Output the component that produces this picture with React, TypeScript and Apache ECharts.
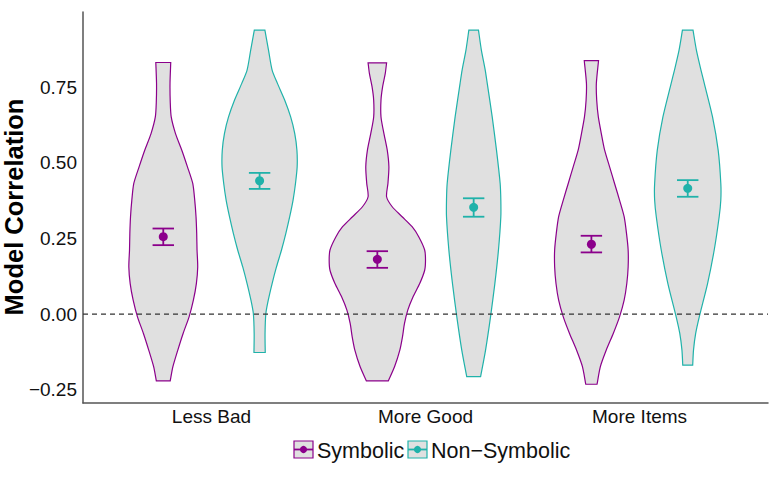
import React, { useEffect, useRef } from 'react';
import * as echarts from 'echarts';

const categories = ['Less Bad', 'More Good', 'More Items'];
const groupNames = ['Symbolic', 'Non−Symbolic'];
const yTicks = [-0.25, 0, 0.25, 0.5, 0.75];

// violin profiles: [value, relative half-width (1 = full dodge half-width)]
const symLessBad = [
  [0.832, 0.155], [0.763, 0.14], [0.7, 0.145], [0.652, 0.165], [0.597, 0.254],
  [0.542, 0.385], [0.487, 0.502], [0.432, 0.612], [0.377, 0.653], [0.322, 0.68],
  [0.267, 0.694], [0.212, 0.701], [0.156, 0.715], [0.101, 0.687], [0.046, 0.625],
  [-0.009, 0.536], [-0.064, 0.412], [-0.119, 0.302], [-0.174, 0.2], [-0.221, 0.144],
];
const nonSymLessBad = [
  [0.939, 0.11], [0.873, 0.185], [0.807, 0.26], [0.763, 0.37], [0.708, 0.52],
  [0.652, 0.645], [0.597, 0.73], [0.542, 0.775], [0.487, 0.78], [0.432, 0.745],
  [0.377, 0.695], [0.322, 0.625], [0.267, 0.545], [0.212, 0.455], [0.156, 0.35],
  [0.101, 0.26], [0.046, 0.18], [0.002, 0.13], [-0.064, 0.113], [-0.127, 0.117],
];
const symMoreGood = [
  [0.831, 0.192], [0.796, 0.165], [0.752, 0.11], [0.708, 0.076], [0.652, 0.076],
  [0.597, 0.137], [0.542, 0.206], [0.487, 0.24], [0.432, 0.22], [0.388, 0.192],
  [0.355, 0.309], [0.322, 0.515], [0.289, 0.722], [0.256, 0.859], [0.212, 0.983],
  [0.178, 1.0], [0.145, 0.983], [0.101, 0.88], [0.057, 0.742], [0.013, 0.632],
  [-0.031, 0.564], [-0.075, 0.522], [-0.119, 0.467], [-0.174, 0.357], [-0.221, 0.227],
];
const nonSymMoreGood = [
  [0.939, 0.1], [0.873, 0.16], [0.807, 0.24], [0.763, 0.282], [0.652, 0.385],
  [0.542, 0.474], [0.432, 0.55], [0.377, 0.564], [0.322, 0.564], [0.212, 0.515],
  [0.101, 0.44], [-0.009, 0.35], [-0.119, 0.247], [-0.207, 0.144],
];
const symMoreItems = [
  [0.838, 0.148], [0.763, 0.103], [0.708, 0.11], [0.652, 0.144], [0.597, 0.206],
  [0.542, 0.275], [0.487, 0.378], [0.432, 0.481], [0.377, 0.584], [0.322, 0.68],
  [0.267, 0.729], [0.212, 0.763], [0.156, 0.763], [0.101, 0.735], [0.046, 0.68],
  [-0.009, 0.584], [-0.064, 0.454], [-0.119, 0.309], [-0.174, 0.186], [-0.232, 0.117],
];
const nonSymMoreItems = [
  [0.939, 0.11], [0.873, 0.18], [0.807, 0.275], [0.763, 0.344], [0.652, 0.515],
  [0.542, 0.632], [0.432, 0.687], [0.377, 0.687], [0.322, 0.653], [0.212, 0.55],
  [0.101, 0.412], [-0.009, 0.24], [-0.064, 0.165], [-0.119, 0.12], [-0.169, 0.103],
];

const symbolicMeans = [0.256, 0.181, 0.231];
const symbolicLow = [0.228, 0.153, 0.204];
const symbolicHigh = [0.283, 0.208, 0.259];
const nonSymbolicMeans = [0.441, 0.353, 0.416];
const nonSymbolicLow = [0.414, 0.322, 0.388];
const nonSymbolicHigh = [0.467, 0.383, 0.443];

const SYM = '#8B008B';
const NS = '#20B2AA';
const FILL = '#e0e0e0';
const FONT = "'Liberation Sans', Arial, Helvetica, sans-serif";
const DODGE = 0.225;
const CAP = 0.05;

function fmt(v: number) {
  const s = Math.abs(v).toFixed(2);
  return v < 0 ? '−' + s : s;
}

function violinSeries(name: string, profiles: number[][][], offset: number, color: string) {
  return {
    type: 'custom',
    name,
    z: 2,
    silent: true,
    data: categories.map((_, i) => [i + 1 + offset, 0]),
    encode: { x: 0, y: 1 },
    renderItem: (params: any, api: any) => {
      const idx = params.dataIndex;
      const cx = api.value(0);
      const prof = profiles[idx];
      const left = prof.map(([v, w]) => api.coord([cx - w * DODGE, v]));
      const right = prof.slice().reverse().map(([v, w]) => api.coord([cx + w * DODGE, v]));
      // duplicate the corner points so the flat ends keep sharp corners
      const pts = [left[0], ...left, left[left.length - 1], right[0], ...right, right[right.length - 1]];
      return {
        type: 'polygon',
        shape: { points: pts, smooth: 0.25 },
        style: { fill: FILL, stroke: color, lineWidth: 1.2 },
      };
    },
  };
}

function errorSeries(name: string, means: number[], lows: number[], highs: number[], offset: number, color: string) {
  return {
    type: 'custom',
    name,
    z: 4,
    silent: true,
    data: means.map((m, i) => [i + 1 + offset, m, lows[i], highs[i]]),
    encode: { x: 0, y: [1, 2, 3] },
    renderItem: (params: any, api: any) => {
      const x = api.value(0);
      const lo = api.coord([x, api.value(2)]);
      const hi = api.coord([x, api.value(3)]);
      const loL = api.coord([x - CAP, api.value(2)]);
      const loR = api.coord([x + CAP, api.value(2)]);
      const hiL = api.coord([x - CAP, api.value(3)]);
      const hiR = api.coord([x + CAP, api.value(3)]);
      const st = { stroke: color, lineWidth: 1.8 };
      return {
        type: 'group',
        children: [
          { type: 'line', shape: { x1: lo[0], y1: lo[1], x2: hi[0], y2: hi[1] }, style: st },
          { type: 'line', shape: { x1: loL[0], y1: loL[1], x2: loR[0], y2: loR[1] }, style: st },
          { type: 'line', shape: { x1: hiL[0], y1: hiL[1], x2: hiR[0], y2: hiR[1] }, style: st },
        ],
      };
    },
  };
}

function legendItem(x: number, color: string, label: string) {
  const y = 441;
  const w = 19;
  const h = 17;
  return [
    { type: 'rect', shape: { x, y, width: w, height: h }, style: { fill: FILL, stroke: color, lineWidth: 1.2 } },
    { type: 'line', shape: { x1: x, y1: y + h / 2, x2: x + w, y2: y + h / 2 }, style: { stroke: color, lineWidth: 1.8 } },
    { type: 'circle', shape: { cx: x + w / 2, cy: y + h / 2, r: 3.6 }, style: { fill: color } },
    {
      type: 'text',
      x: x + w + 4,
      y: y + h / 2 + 1,
      style: { text: label, fontSize: 21.5, fontFamily: FONT, fill: '#111', verticalAlign: 'middle', align: 'left' },
    },
  ];
}

export default function App() {
  const ref = useRef<HTMLDivElement>(null);
  useEffect(() => {
    if (!ref.current) return;
    const chart = echarts.init(ref.current, undefined, { renderer: 'svg' });
    const option: any = {
      animation: false,
      backgroundColor: '#ffffff',
      grid: { left: 83, right: 10, top: 12, bottom: 75, containLabel: false },
      xAxis: {
        type: 'value',
        min: 0.4,
        max: 3.6,
        splitLine: { show: false },
        axisTick: { show: false },
        axisLine: { show: true, onZero: false, lineStyle: { color: '#555', width: 1.5 } },
        axisLabel: {
          customValues: [1, 2, 3],
          formatter: (v: number) => categories[Math.round(v) - 1] || '',
          fontSize: 19,
          fontFamily: FONT,
          color: '#111',
          margin: 4,
        },
      },
      yAxis: {
        type: 'value',
        min: -0.294,
        max: 0.999,
        splitLine: { show: false },
        axisTick: { show: false },
        axisLine: { show: true, onZero: false, lineStyle: { color: '#555', width: 1.5 } },
        axisLabel: {
          customValues: yTicks,
          formatter: (v: number) => fmt(v),
          fontSize: 19,
          fontFamily: FONT,
          color: '#111',
          margin: 6,
        },
      },
      graphic: [
        {
          type: 'text',
          x: 14,
          y: 207,
          rotation: Math.PI / 2,
          style: {
            text: 'Model Correlation',
            fontSize: 25.5,
            fontWeight: 'bold',
            fontFamily: FONT,
            fill: '#000',
            align: 'center',
            verticalAlign: 'middle',
          },
        },
        ...legendItem(294, SYM, groupNames[0]),
        ...legendItem(408, NS, groupNames[1]),
      ],
      series: [
        violinSeries(groupNames[0], [symLessBad, symMoreGood, symMoreItems], -DODGE, SYM),
        violinSeries(groupNames[1], [nonSymLessBad, nonSymMoreGood, nonSymMoreItems], DODGE, NS),
        {
          type: 'line',
          z: 3,
          silent: true,
          symbol: 'none',
          data: [[0.4, 0], [3.6, 0]],
          lineStyle: { color: '#333', width: 1.2, type: [5, 4] },
        },
        errorSeries(groupNames[0] + ' CI', symbolicMeans, symbolicLow, symbolicHigh, -DODGE, SYM),
        errorSeries(groupNames[1] + ' CI', nonSymbolicMeans, nonSymbolicLow, nonSymbolicHigh, DODGE, NS),
        {
          type: 'scatter',
          name: groupNames[0] + ' mean',
          z: 5,
          silent: true,
          symbolSize: 9,
          itemStyle: { color: SYM, opacity: 1 },
          data: symbolicMeans.map((m, i) => [i + 1 - DODGE, m]),
        },
        {
          type: 'scatter',
          name: groupNames[1] + ' mean',
          z: 5,
          silent: true,
          symbolSize: 9,
          itemStyle: { color: NS, opacity: 1 },
          data: nonSymbolicMeans.map((m, i) => [i + 1 + DODGE, m]),
        },
      ],
    };
    chart.setOption(option);
    return () => chart.dispose();
  }, []);
  return (
    <div
      ref={ref}
      style={{ position: 'fixed', left: 0, top: 0, width: 778, height: 478, background: '#fff' }}
    />
  );
}
